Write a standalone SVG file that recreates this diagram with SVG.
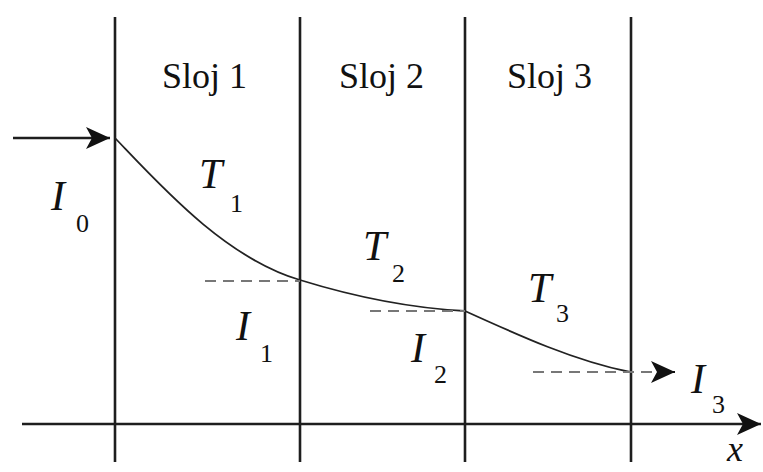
<svg xmlns="http://www.w3.org/2000/svg" width="763" height="472" viewBox="0 0 763 472">
<style>
.bound{stroke:#1e1e1e;stroke-width:2.6;fill:none}
.curve{stroke:#222;stroke-width:1.8;fill:none}
.dash{stroke:#777;stroke-width:2;stroke-dasharray:11 7;fill:none}
</style>
<defs>
<marker id="ah" viewBox="0 0 10 10" refX="10" refY="5" markerWidth="10" markerHeight="10" markerUnits="userSpaceOnUse" orient="auto" overflow="visible">
<path d="M-14,-6 L10,5 L-14,16 L-8,5 Z" fill="#111"/>
</marker>
</defs>
<rect width="763" height="472" fill="#fff"/>
<g id="layers">
<line class="bound" x1="115" y1="17" x2="115" y2="462"/>
<line class="bound" x1="300" y1="17" x2="300" y2="462"/>
<line class="bound" x1="465" y1="17" x2="465" y2="462"/>
<line class="bound" x1="631" y1="17" x2="631" y2="462"/>
</g>
<g id="labels" fill="#111" font-size="36" font-family="Liberation Serif, Times New Roman, serif">
<text x="162" y="88">Sloj 1</text>
<text x="339" y="88">Sloj 2</text>
<text x="507" y="88">Sloj 3</text>
</g>
<g id="connectors">
<line class="bound" x1="22" y1="424" x2="761" y2="424" marker-end="url(#ah)"/>
<line class="bound" x1="13" y1="138" x2="110" y2="138" marker-end="url(#ah)"/>
<path class="curve" d="M115,138 C160,185 225,258 300,280 C355,297 410,308 465,311 C520,336 575,361 630,372"/>
<line class="dash" x1="205" y1="281" x2="300" y2="281"/>
<line class="dash" x1="370" y1="311" x2="465" y2="311"/>
<line class="dash" x1="533" y1="372" x2="668" y2="372"/>
<line x1="660" y1="372" x2="675" y2="372" stroke="#111" stroke-width="2" marker-end="url(#ah)"/>
</g>
<g id="symbols" fill="#111" font-family="Liberation Serif, Times New Roman, serif">
<g font-style="italic" font-size="42">
<text x="51" y="210">I</text>
<text x="199" y="188">T</text>
<text x="363" y="260">T</text>
<text x="528" y="302">T</text>
<text x="236" y="340">I</text>
<text x="411" y="362">I</text>
<text x="691" y="393">I</text>
<text x="727" y="461" font-size="36">x</text>
</g>
<g font-size="26">
<text x="76" y="232">0</text>
<text x="230" y="212">1</text>
<text x="392" y="282">2</text>
<text x="556" y="322">3</text>
<text x="260" y="362">1</text>
<text x="434" y="383">2</text>
<text x="712" y="413">3</text>
</g>
</g>
</svg>
